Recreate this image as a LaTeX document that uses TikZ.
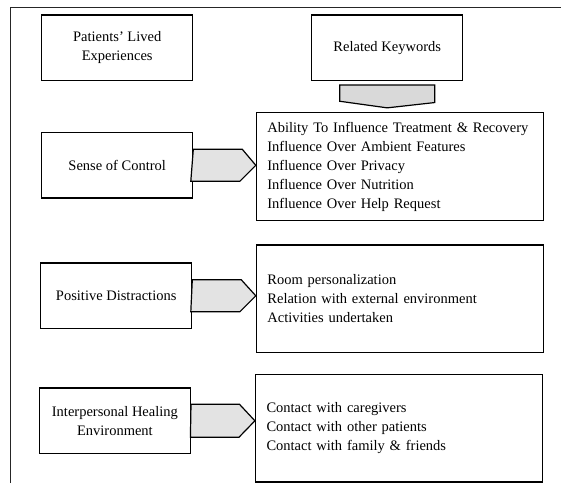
\documentclass[tikz,border=0pt]{standalone}
\usepackage{fontspec}
\setmainfont{Liberation Serif}
\begin{document}
\begin{tikzpicture}[x=1pt,y=-1pt,line width=1.2pt,
theme/.style ={draw,minimum width=151pt,minimum height=65.5pt,align=center,inner sep=0pt,font=\fontsize{14.5}{19}\selectfont},
keys/.style ={draw,text width=265pt,inner xsep=11pt,inner ysep=0pt,minimum height=107.5pt,align=left,font=\fontsize{14.5}{19}\selectfont},
pointer/.style ={draw,fill=gray!22,line join=miter}]

\useasboundingbox (0,0) rectangle (561,483);
\draw [line width=1pt,black!85] (10,483) -- (10,7) -- (561,7);

\node[theme] (PLE) at (117.2,47.7) {Patients’ Lived\\Experiences};
\node[theme] (RK) at (387.2,47.7) {Related Keywords};
\node[theme] (SC) at (117.2,165.3) {Sense of Control};
\node[theme] (PD) at (116.2,295.8) {Positive Distractions};
\node[theme] (IH) at (114.9,420.8) {Interpersonal Healing\\Environment};

\node[keys] (K1) at (399.9,166.6) {Ability To Influence Treatment \& Recovery\\Influence Over Ambient Features\\Influence Over Privacy\\Influence Over Nutrition\\Influence Over Help Request};
\node[keys] (K2) at (399.9,298.7) {Room personalization\\Relation with external environment\\Activities undertaken};
\node[keys] (K3) at (399.0,428.3) {Contact with caregivers\\Contact with other patients\\Contact with family \& friends};

%down arrow
\draw [pointer,fill=gray!30] ([yshift=-4pt]RK.south) ++(-47.5,0) -- ++(95,0) -- ++(0,17.5) -- ([yshift=4.4pt]RK.south |- K1.north) -- ++(-47.5,-6.6) -- cycle;

%side arrows
\draw [pointer] (SC.east) ++(0,-16) -- ++(49,0) -- (K1.west |- SC.east) -- ++(-16,16) -- ++(-49,0) -- cycle;
\draw [pointer] (PD.east) ++(0,-16) -- ++(49,0) -- (K2.west |- PD.east) -- ++(-16,16) -- ++(-49,0) -- cycle;
\draw [pointer] (IH.east) ++(0,-16.5) -- ++(48.5,0) -- (K3.west |- IH.east) -- ++(-16,16.5) -- ++(-48.5,0) -- cycle;
\end{tikzpicture}
\end{document}
